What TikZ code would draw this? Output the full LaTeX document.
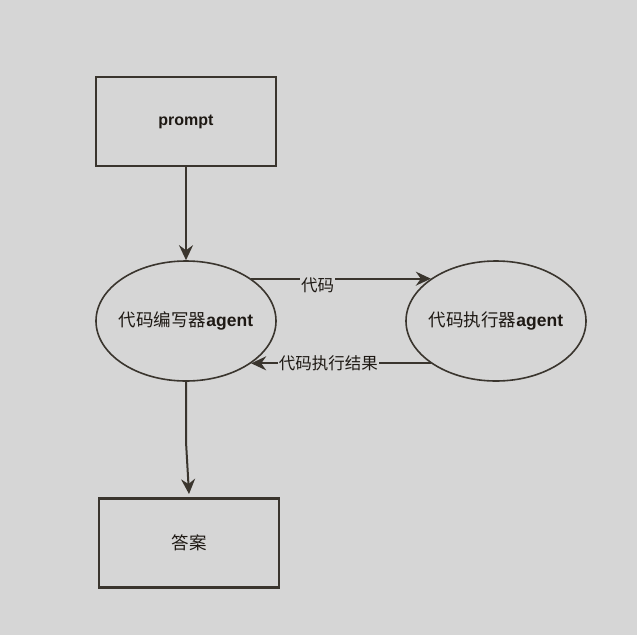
\documentclass[tikz,border=0pt]{standalone}
\usepackage{fontspec}
\setmainfont{Liberation Sans}
\newfontfamily\cjk{Noto Sans CJK SC}
\usetikzlibrary{shapes.geometric,arrows.meta}
\definecolor{bg}{RGB}{214,214,214}
\definecolor{ln}{RGB}{58,53,46}
\definecolor{tx}{RGB}{30,25,20}
\begin{document}
\begin{tikzpicture}[x=1pt,y=-1pt,
  boxnode/.style={draw=ln,line width=2.2pt,minimum width=180pt,minimum height=89pt,inner sep=0pt,text=tx},
  agentnode/.style={draw=ln,ellipse,line width=1.6pt,minimum width=180pt,minimum height=120pt,inner xsep=-6pt,inner ysep=0pt,text=tx,font=\fontsize{17.5}{20}\selectfont},
  conn/.style={draw=ln,line width=2pt,-{Stealth[length=15pt,width=14pt,inset=5pt]}},
  lbl/.style={fill=bg,text=tx,inner sep=1pt,font=\cjk\fontsize{16.5}{18}\selectfont}]
\fill[bg] (0,0) rectangle (637,635);
\useasboundingbox (0,0) rectangle (637,635);
\node[boxnode,font=\fontsize{16}{18}\selectfont] (prompt) at (186,121.5) {\textbf{prompt}};
\node[agentnode] (writer) at (186,321) {{\cjk 代码编写器}\textbf{agent}};
\node[agentnode] (exec) at (496,321) {{\cjk 代码执行器}\textbf{agent}};
\node[boxnode,font=\cjk\fontsize{17.5}{20}\selectfont] (answer) at (189,543) {答案};
\coordinate (anstip) at (189,494);
\draw[conn] (prompt.south) -- (writer.north);
\draw[conn] (writer.33) -- node[lbl,pos=0.37,yshift=-7pt] {代码} (exec.147);
\draw[conn] (exec.213) -- node[lbl,pos=0.57] {代码执行结果} (writer.-33);
\draw[conn] (writer.south) -- ++(0,60) -- (anstip);
\end{tikzpicture}
\end{document}
